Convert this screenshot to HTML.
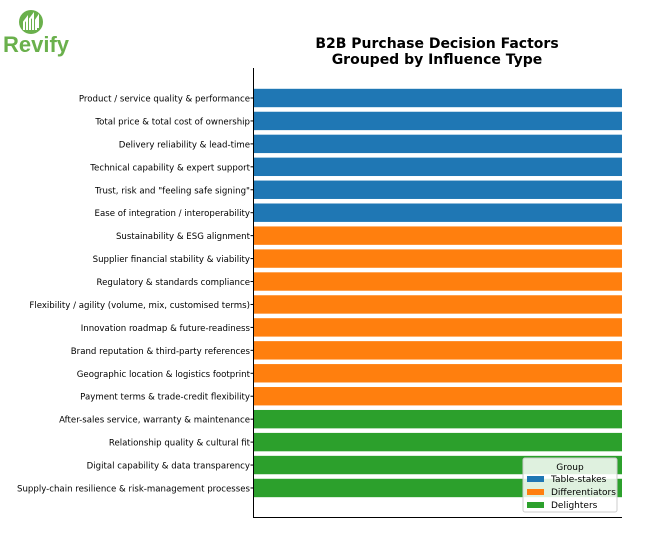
<!DOCTYPE html>
<html><head><meta charset="utf-8"><style>
body{margin:0;background:#fff;width:663px;height:533px;overflow:hidden;font-family:"DejaVu Sans","Liberation Sans",sans-serif}
</style></head><body>
<svg width="663" height="533">
<g>
<circle cx="31" cy="22" r="12" fill="#6ab04c"/>
<path d="M24 30 L24 22 L27 18 L27 30 M30 30 L30 19 L33 15 L33 30 M36 30 L36 20 L38 17 L38 28" stroke="#fff" stroke-width="2" fill="none"/>
<text x="3" y="52" font-family="Liberation Sans,sans-serif" font-weight="bold" font-size="22" fill="#6ab04c">Revify</text>
</g>
<text x="437" y="48" text-anchor="middle" font-weight="bold" font-size="14">B2B Purchase Decision Factors</text>
<text x="437" y="64" text-anchor="middle" font-weight="bold" font-size="14">Grouped by Influence Type</text>
<g id="plot"></g>
<line x1="253.5" y1="68" x2="253.5" y2="518" stroke="#000" stroke-width="1"/>
<line x1="253" y1="517.5" x2="622" y2="517.5" stroke="#000" stroke-width="1"/>
<g>
<rect x="523" y="458" width="94" height="54" fill="#fff" fill-opacity="0.85" stroke="#ccc" rx="2"/>
<text x="570" y="470" text-anchor="middle" font-size="9">Group</text>
<rect x="527" y="476" width="17" height="6" fill="#1f77b4"/><text x="551" y="482" font-size="9">Table-stakes</text>
<rect x="527" y="489" width="17" height="6" fill="#ff7f0e"/><text x="551" y="495" font-size="9">Differentiators</text>
<rect x="527" y="502" width="17" height="6" fill="#2ca02c"/><text x="551" y="508" font-size="9">Delighters</text>
</g>
</svg>
<script>
const categories=["Product / service quality & performance","Total price & total cost of ownership","Delivery reliability & lead-time","Technical capability & expert support","Trust, risk and \"feeling safe signing\"","Ease of integration / interoperability","Sustainability & ESG alignment","Supplier financial stability & viability","Regulatory & standards compliance","Flexibility / agility (volume, mix, customised terms)","Innovation roadmap & future-readiness","Brand reputation & third-party references","Geographic location & logistics footprint","Payment terms & trade-credit flexibility","After-sales service, warranty & maintenance","Relationship quality & cultural fit","Digital capability & data transparency","Supply-chain resilience & risk-management processes"];
const values=[1,1,1,1,1,1,1,1,1,1,1,1,1,1,1,1,1,1];
const groups=["Table-stakes","Table-stakes","Table-stakes","Table-stakes","Table-stakes","Table-stakes","Differentiators","Differentiators","Differentiators","Differentiators","Differentiators","Differentiators","Differentiators","Differentiators","Delighters","Delighters","Delighters","Delighters"];
const colors={"Table-stakes":"#1f77b4","Differentiators":"#ff7f0e","Delighters":"#2ca02c"};
const NS="http://www.w3.org/2000/svg";
const g=document.getElementById('plot');
const x=v=>254+v*368;
const y=i=>98+i*22.94;
categories.forEach((c,i)=>{
 const r=document.createElementNS(NS,'rect');
 r.setAttribute('x',x(0));r.setAttribute('y',y(i)-9.2);
 r.setAttribute('width',x(values[i])-x(0));r.setAttribute('height',18.4);
 r.setAttribute('fill',colors[groups[i]]);
 
 
 g.appendChild(r);
 const t=document.createElementNS(NS,'text');
 t.setAttribute('x',250);t.setAttribute('y',y(i)+3.5);
 t.setAttribute('text-anchor','end');t.setAttribute('font-size','8.6');
 t.textContent=c;
 
 
 g.appendChild(t);
 const k=document.createElementNS(NS,'line');
 k.setAttribute('x1',250.5);k.setAttribute('x2',253.5);k.setAttribute('y1',y(i));k.setAttribute('y2',y(i));
 k.setAttribute('stroke','#000');
 
 
 g.appendChild(k);
});
</script>
</body></html>
